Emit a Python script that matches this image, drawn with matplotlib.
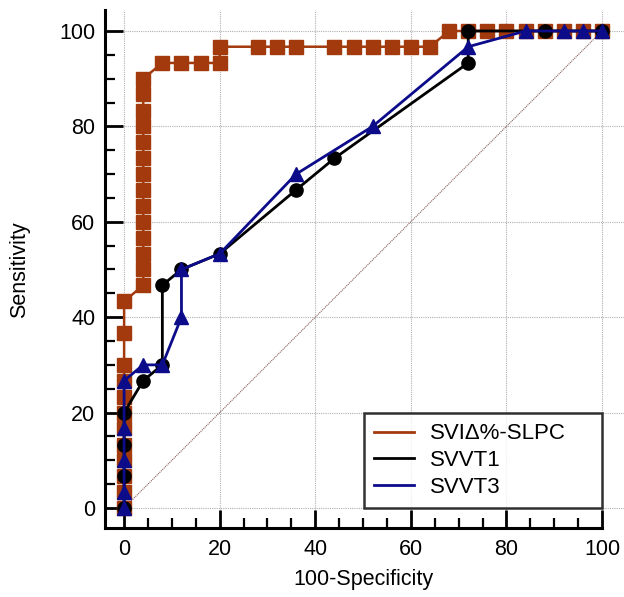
import matplotlib
matplotlib.use("Agg")
import matplotlib.pyplot as plt
from matplotlib.ticker import MultipleLocator
from matplotlib.lines import Line2D

plt.rcParams['font.family'] = ['Liberation Sans', 'DejaVu Sans']

# ---- data (100-Specificity, Sensitivity) ----
slpc_x = [0, 0, 0, 0, 0, 0, 0, 0, 0, 0, 0, 0,
          4, 4, 4, 4, 4, 4, 4, 4, 4, 4, 4, 4, 4, 4,
          8, 12, 16, 20, 20, 28, 32, 36, 44, 48, 52, 56, 60, 64,
          68, 72, 76, 80, 84, 88, 92, 96, 100]
slpc_y = [0, 3.3, 6.7, 10, 13.3, 16.7, 20, 23.3, 26.7, 30, 36.7, 43.3,
          46.7, 50, 53.3, 56.7, 60, 63.3, 66.7, 70, 73.3, 76.7, 80, 83.3, 86.7, 90,
          93.3, 93.3, 93.3, 93.3, 96.7, 96.7, 96.7, 96.7, 96.7, 96.7, 96.7, 96.7, 96.7, 96.7,
          100, 100, 100, 100, 100, 100, 100, 100, 100]

svvt1_x = [0, 0, 0, 0, 4, 8, 8, 12, 20, 36, 44, 72, 72, 88, 100]
svvt1_y = [0, 6.7, 13.3, 20, 26.7, 30, 46.7, 50, 53.3, 66.7, 73.3, 93.3, 100, 100, 100]

svvt3_x = [0, 0, 0, 0, 0, 4, 8, 12, 12, 20, 36, 52, 72, 84, 92, 96, 100]
svvt3_y = [0, 3.3, 10, 16.7, 26.7, 30, 30, 40, 50, 53.3, 70, 80, 96.7, 100, 100, 100, 100]

ticks = [0, 20, 40, 60, 80, 100]
labels = ["SVIΔ%-SLPC", "SVVT1", "SVVT3"]
colors = ["#A33A0E", "#000000", "#0C0C8A"]

fig = plt.figure(figsize=(6.24, 5.97), dpi=100)
ax = fig.add_axes([105/624, (597-528)/597, (624-105)/624, (528-10)/597])

ax.set_xlim(-4, 104.6)
ax.set_ylim(-4.2, 104.4)

# grid
for t in ticks:
    ax.axvline(t, color="#b0b0b0", lw=0.8, ls=(0, (1, 1)), zorder=0)
    ax.axhline(t, color="#b0b0b0", lw=0.8, ls=(0, (1, 1)), zorder=0)

# diagonal
ax.plot([0, 100], [0, 100], color="#8a6060", lw=0.8, ls=(0, (1, 0.8)), zorder=1)

ax.plot(slpc_x, slpc_y, color=colors[0], lw=1.8, marker="s", ms=9.5,
        mfc=colors[0], mec=colors[0], zorder=3)
ax.plot(svvt1_x, svvt1_y, color=colors[1], lw=2.0, marker="o", ms=9.5,
        mfc=colors[1], mec=colors[1], zorder=4)
ax.plot(svvt3_x, svvt3_y, color=colors[2], lw=2.0, marker="^", ms=10.5,
        mfc=colors[2], mec=colors[2], zorder=5)

# spines
for s in ["top", "right"]:
    ax.spines[s].set_visible(False)
ax.spines["left"].set_linewidth(2.2)
ax.spines["bottom"].set_linewidth(2.2)
ax.spines["bottom"].set_bounds(-4, 100)

ax.set_xticks(ticks)
ax.set_yticks(ticks)
ax.xaxis.set_minor_locator(MultipleLocator(5))
ax.yaxis.set_minor_locator(MultipleLocator(5))
ax.tick_params(which="major", direction="in", length=13, width=2, labelsize=15.5, pad=8)
ax.tick_params(which="minor", direction="in", length=7, width=1.6)
ax.tick_params(axis="y", which="major", pad=7)

# axis labels centred on the 0-100 range
xc = (50 - (-4)) / (104.6 + 4)
yc = (50 - (-4.2)) / (104.4 + 4.2)
ax.set_xlabel("100-Specificity", fontsize=15.5)
ax.set_ylabel("Sensitivity", fontsize=15.5)
ax.xaxis.set_label_coords(xc, -0.08)
ax.yaxis.set_label_coords(-0.145, yc)

handles = [Line2D([], [], color=c, lw=2.0) for c in colors]
leg = ax.legend(handles, labels, loc="lower left", bbox_to_anchor=(50.2, 0, 49.8, 20),
                bbox_transform=ax.transData, mode="expand", borderaxespad=0,
                fontsize=16, frameon=True, fancybox=False, edgecolor="black",
                handlelength=1.8, handletextpad=0.7, labelspacing=0.26,
                borderpad=0.45)
leg.get_frame().set_linewidth(1.8)
leg.set_zorder(6)

fig.savefig("out.png", dpi=100)
